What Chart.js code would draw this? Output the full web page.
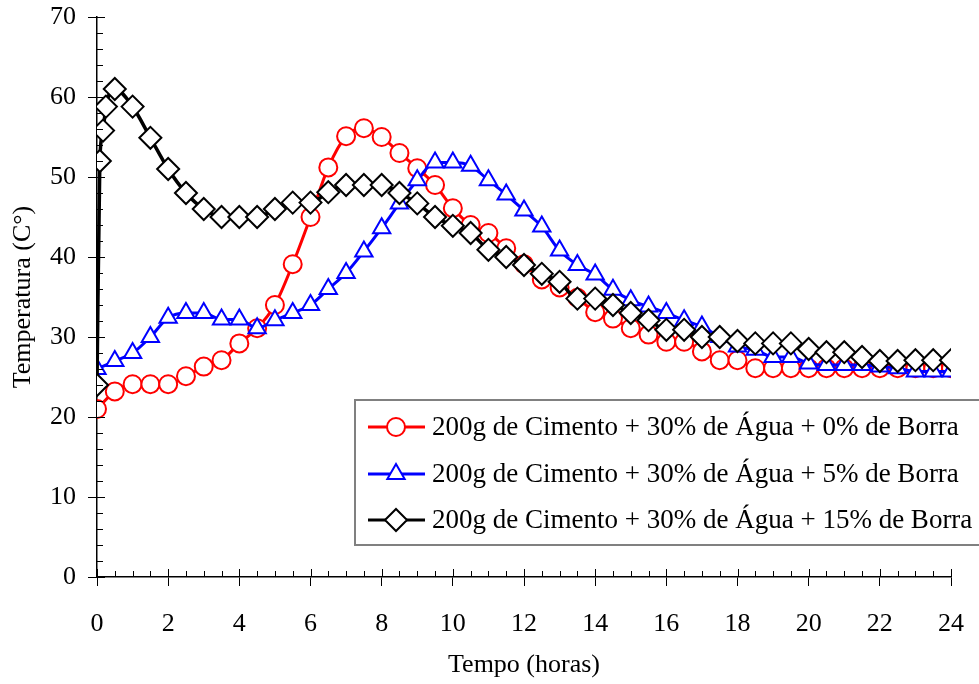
<!DOCTYPE html>
<html>
<head>
<meta charset="utf-8">
<script src="https://cdn.jsdelivr.net/npm/chart.js@4.4.0/dist/chart.umd.min.js"></script>
<style>
  html, body { margin: 0; padding: 0; background: #fff; }
  #wrap { width: 979px; height: 684px; }
</style>
</head>
<body>
<div id="wrap"><canvas id="grafico" width="979" height="684"></canvas></div>
<script>

// tempo de leitura (horas)
var horas = [0, 0.5, 1, 1.5, 2, 2.5, 3, 3.5, 4, 4.5, 5, 5.5, 6, 6.5, 7, 7.5, 8, 8.5, 9, 9.5,
             10, 10.5, 11, 11.5, 12, 12.5, 13, 13.5, 14, 14.5, 15, 15.5, 16, 16.5, 17, 17.5,
             18, 18.5, 19, 19.5, 20, 20.5, 21, 21.5, 22, 22.5, 23, 23.5, 24];

// a mistura com 15% teve leituras extras nos primeiros minutos
var horasBorra15 = [0, 0.08, 0.17, 0.25, 0.5, 1, 1.5, 2, 2.5, 3, 3.5, 4, 4.5, 5, 5.5, 6, 6.5, 7,
                    7.5, 8, 8.5, 9, 9.5, 10, 10.5, 11, 11.5, 12, 12.5, 13, 13.5, 14, 14.5, 15,
                    15.5, 16, 16.5, 17, 17.5, 18, 18.5, 19, 19.5, 20, 20.5, 21, 21.5, 22, 22.5,
                    23, 23.5, 24];

// temperaturas (C)
var tempBorra0 = [21, 23.2, 24.1, 24.1, 24.1, 25.1, 26.3, 27.1, 29.2, 31.1, 34, 39.1, 45, 51.2,
                  55.1, 56.1, 55, 53, 51.1, 49, 46.1, 44, 43, 41.1, 39.1, 37.2, 36.2, 34.9, 33.1,
                  32.3, 31.1, 30.3, 29.4, 29.4, 28.2, 27.1, 27.1, 26.1, 26.1, 26.1, 26.1, 26.1,
                  26.1, 26.1, 26.1, 26.1, 26.1, 26.1, 26.1];

var tempBorra5 = [26, 27, 28, 30, 32.4, 33, 33, 32.2, 32.2, 31.1, 32.1, 33, 34, 36, 38, 40.7,
                  43.6, 46.7, 49.6, 51.8, 51.8, 51.4, 49.6, 47.8, 45.8, 43.8, 40.8, 39, 37.8,
                  35.9, 34.6, 33.8, 33, 32.1, 31.3, 30, 28.8, 28.4, 27.5, 27.5, 26.7, 26.5, 26.5,
                  26.5, 26.3, 26.1, 25.7, 25.7, 25.7];

var tempBorra15 = [24, 52, 55.8, 58.8, 61, 58.8, 54.9, 51, 48, 46, 45, 45, 45, 46, 46.8, 46.8,
                   48.1, 49, 49, 49, 48, 46.7, 45, 43.9, 43, 40.9, 40, 39, 37.9, 36.9, 34.8, 34.8,
                   34, 33, 32.1, 30.9, 30.9, 30, 30, 29.5, 29.2, 29.2, 29.2, 28.5, 28.1, 28.1,
                   27.5, 27, 27, 27.1, 27.1, 27.1];

var legendas = [
    "200g de Cimento + 30% de Água + 0% de Borra",
    "200g de Cimento + 30% de Água + 5% de Borra",
    "200g de Cimento + 30% de Água + 15% de Borra"
];

function pontos(xs, ys)
{
    var out = [];
    for (var i = 0; i < xs.length; i++)
        out.push({x: xs[i], y: ys[i]});
    return out;
}

Chart.defaults.font.family = "'Liberation Serif', 'Times New Roman', serif";
Chart.defaults.color = "#000";

// tracinhos menores nos eixos (e a parte interna dos maiores)
var ticksMenores = {
    id: "ticksMenores",
    afterDraw: function(chart)
    {
        var ctx = chart.ctx;
        var sx = chart.scales.x, sy = chart.scales.y;
        var area = chart.chartArea;
        ctx.save();
        ctx.strokeStyle = "#000";
        ctx.lineWidth = 1;
        ctx.beginPath();
        for (var h = 0; h <= 24; h += 0.5)
        {
            var px = Math.round(sx.getPixelForValue(h)) + 0.5;
            var len = (h % 2 === 0) ? 8 : 6;
            ctx.moveTo(px, area.bottom);
            ctx.lineTo(px, area.bottom - len);
        }
        for (var t = 0; t <= 70; t += 2)
        {
            var py = Math.round(sy.getPixelForValue(t)) + 0.5;
            var len2 = (t % 10 === 0) ? 8 : 6;
            ctx.moveTo(area.left, py);
            ctx.lineTo(area.left + len2, py);
        }
        ctx.stroke();
        ctx.restore();
    }
};

// legenda com caixa, linha e marcador no meio
var legendaCaixa = {
    id: "legendaCaixa",
    afterDraw: function(chart)
    {
        var ctx = chart.ctx;
        var x0 = 355, y0 = 400, x1 = 982, y1 = 545;
        ctx.save();
        ctx.fillStyle = "#fff";
        ctx.fillRect(x0, y0, x1 - x0, y1 - y0);
        ctx.strokeStyle = "#808080";
        ctx.lineWidth = 2;
        ctx.strokeRect(x0, y0, x1 - x0, y1 - y0);

        var linhas = [427, 474, 520];
        for (var i = 0; i < 3; i++)
        {
            var ds = chart.data.datasets[i];
            var y = linhas[i];
            ctx.strokeStyle = ds.borderColor;
            ctx.lineWidth = 3;
            ctx.beginPath();
            ctx.moveTo(368, y);
            ctx.lineTo(425, y);
            ctx.stroke();

            ctx.fillStyle = ds.pointBackgroundColor;
            ctx.strokeStyle = ds.pointBorderColor;
            ctx.lineWidth = ds.pointBorderWidth;
            Chart.helpers.drawPoint(ctx, {
                pointStyle: ds.pointStyle,
                radius: ds.pointRadius,
                borderWidth: ds.pointBorderWidth,
                rotation: 0
            }, 396, y);

            ctx.fillStyle = "#000";
            ctx.font = "27px 'Liberation Serif', 'Times New Roman', serif";
            ctx.textBaseline = "middle";
            ctx.fillText(legendas[i], 432, y + 1);
        }
        ctx.restore();
    }
};

var ctx = document.getElementById("grafico").getContext("2d");
var grafico = new Chart(ctx, {
    type: "line",
    data: {
        datasets: [
            {
                label: legendas[0],
                data: pontos(horas, tempBorra0),
                borderColor: "#ff0000",
                borderWidth: 3,
                pointStyle: "circle",
                pointRadius: 9,
                pointBorderWidth: 2,
                pointBorderColor: "#ff0000",
                pointBackgroundColor: "#fff",
                cubicInterpolationMode: "monotone",
                order: 3
            },
            {
                label: legendas[1],
                data: pontos(horas, tempBorra5),
                borderColor: "#0000ff",
                borderWidth: 3,
                pointStyle: "triangle",
                pointRadius: 10,
                pointBorderWidth: 2,
                pointBorderColor: "#0000ff",
                pointBackgroundColor: "#fff",
                cubicInterpolationMode: "monotone",
                order: 2
            },
            {
                label: legendas[2],
                data: pontos(horasBorra15, tempBorra15),
                borderColor: "#000000",
                borderWidth: 3.5,
                pointStyle: "rectRot",
                pointRadius: 11,
                pointBorderWidth: 2,
                pointBorderColor: "#000000",
                pointBackgroundColor: "#fff",
                cubicInterpolationMode: "monotone",
                order: 1
            }
        ]
    },
    options: {
        responsive: false,
        animation: false,
        layout: { padding: { left: 0, right: 28, top: 17, bottom: 0 } },
        plugins: {
            legend: { display: false },
            tooltip: { enabled: false }
        },
        scales: {
            x: {
                type: "linear",
                min: 0,
                max: 24,
                ticks: { stepSize: 2, font: { size: 26 }, padding: 23, maxRotation: 0, color: "#000" },
                grid: { drawOnChartArea: false, drawTicks: true, tickLength: 9, color: "#000", lineWidth: 1 },
                border: { display: true, color: "#000", width: 1.5 },
                title: { display: true, text: "Tempo (horas)", font: { size: 26 }, color: "#000", padding: { top: 0, bottom: 3 } },
                afterFit: function(s) { s.height = 107; s.paddingLeft = 0; s.paddingRight = 0; }
            },
            y: {
                min: 0,
                max: 70,
                ticks: { stepSize: 10, font: { size: 26 }, padding: 12, color: "#000" },
                grid: { drawOnChartArea: false, drawTicks: true, tickLength: 9, color: "#000", lineWidth: 1 },
                border: { display: true, color: "#000", width: 1.5 },
                title: { display: true, text: "Temperatura (C°)", font: { size: 26 }, color: "#000", padding: { top: 8, bottom: 0 } },
                afterFit: function(s) { s.width = 97; s.paddingTop = 0; s.paddingBottom = 0; }
            }
        }
    },
    plugins: [ticksMenores, legendaCaixa]
});
</script>
</body>
</html>
